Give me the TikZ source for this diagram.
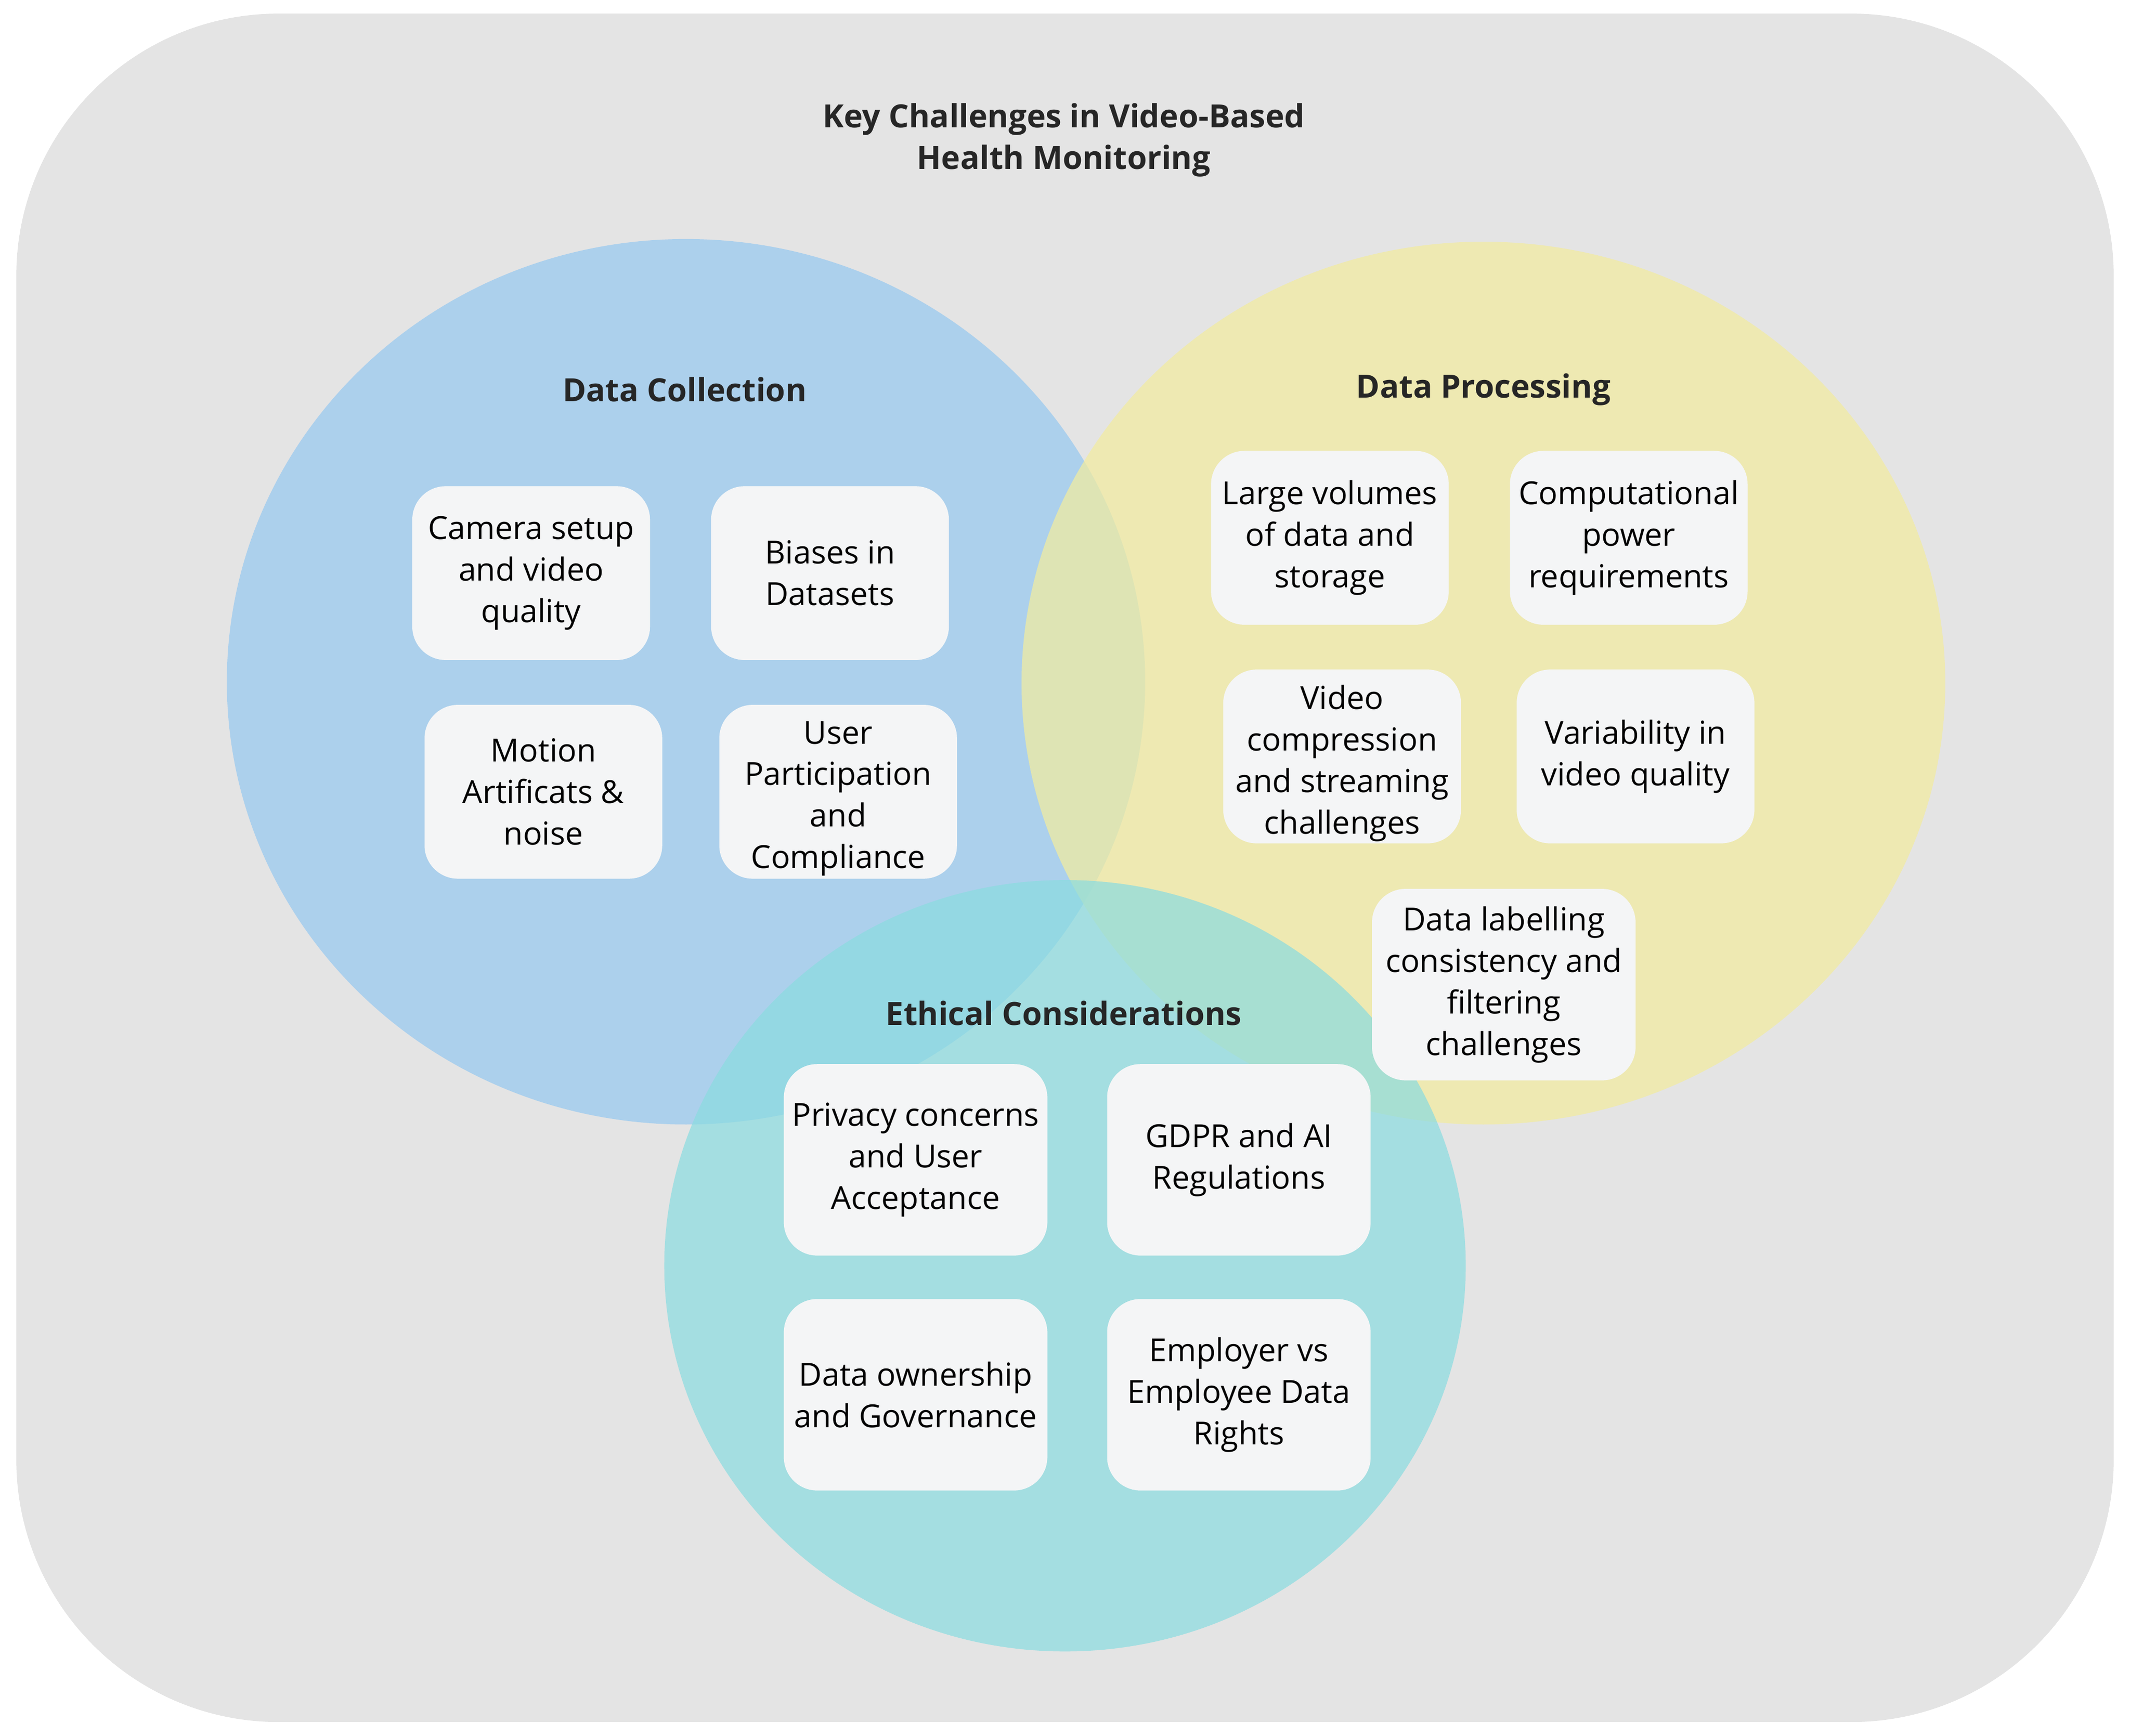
\documentclass[tikz,border=0pt]{standalone}
\usepackage{fontspec}
\setmainfont{Open Sans}
\begin{document}
\begin{tikzpicture}[x=0.02cm,y=-0.02cm,
  box/.style={fill=boxc,rounded corners=14pt,minimum width=175*0.02cm,minimum height=128*0.02cm,align=center,font=\fontsize{13.3}{17.4}\selectfont,inner sep=2pt},
  bbox/.style={box,minimum width=194*0.02cm,minimum height=141*0.02cm},
  head/.style={font=\bfseries\fontsize{13.4}{17.4}\selectfont,align=center,text=black!85}]
\definecolor{bg}{HTML}{E4E4E4}
\definecolor{boxc}{HTML}{F4F5F6}
\definecolor{cblue}{HTML}{A3CDEE}
\definecolor{cyel}{HTML}{F2EC9F}
\definecolor{cteal}{HTML}{8ADCE0}
\useasboundingbox (0,0) rectangle (1568,1278);
\fill[bg,rounded corners=110pt] (12,10) rectangle (1556,1268);
\node[head] (title) at (783,103) {Key Challenges in Video-Based\\Health Monitoring};
\fill[cblue,opacity=0.85] (505,502) ellipse [x radius=338, y radius=326];
\fill[cyel,opacity=0.72] (1092,503) ellipse [x radius=340, y radius=325];
\fill[cteal,opacity=0.7] (784,932) ellipse [x radius=295, y radius=284];
\node[head] (dc) at (504,287) {Data Collection};
\node[head] (dp) at (1092,287) {Data Processing};
\node[head] (ec) at (783,746) {Ethical Considerations};
\node[box] (b1) at (391,422) {Camera setup\\and video\\quality};
\node[box] (b2) at (611,422) {Biases in\\Datasets};
\node[box] (b3) at (400,583) {Motion\\Artificats \&\\noise};
\node[box] (b4) at (617,583) {};
\begin{scope}
\clip[rounded corners=14pt] (529.5,519.5) rectangle (704.5,646.5);
\node[align=center,font=\fontsize{13.3}{17.4}\selectfont] (t4) at (617,588) {User\\Participation\\and\\Compliance};
\end{scope}
\node[box] (b5) at (979,396) {Large volumes\\of data and\\storage};
\node[box] (b6) at (1199,396) {Computational\\power\\requirements};
\node[box] (b7) at (988,557) {};
\begin{scope}
\clip[rounded corners=14pt] (900.5,493.5) rectangle (1075.5,620.5);
\node[align=center,font=\fontsize{13.3}{17.4}\selectfont] (t7) at (988,562) {Video\\compression\\and streaming\\challenges};
\end{scope}
\node[box] (b8) at (1204,557) {Variability in\\video quality};
\node[bbox] (b9) at (1107,725) {Data labelling\\consistency and\\filtering\\challenges};
\node[bbox] (e1) at (674,854) {Privacy concerns\\and User\\Acceptance};
\node[bbox] (e2) at (912,854) {GDPR and AI\\Regulations};
\node[bbox] (e3) at (674,1027) {Data ownership\\and Governance};
\node[bbox] (e4) at (912,1027) {Employer vs\\Employee Data\\Rights};
\end{tikzpicture}
\end{document}
